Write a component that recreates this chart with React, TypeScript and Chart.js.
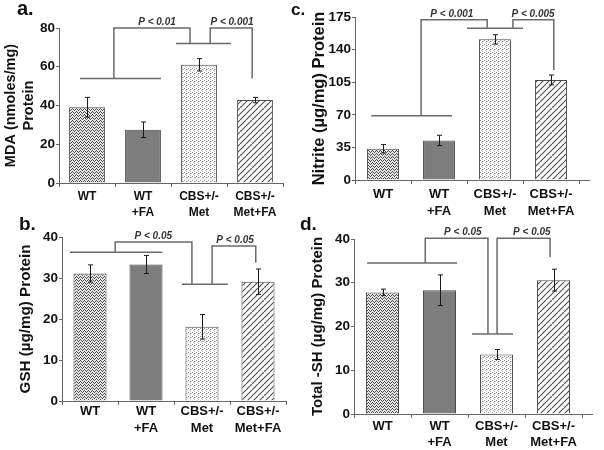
import React, { useEffect, useRef } from 'react';
import { Chart, registerables } from 'chart.js';

Chart.register(...registerables);

// ---------- data ----------
const categories: string[][] = [['WT'], ['WT', '+FA'], ['CBS+/-', 'Met'], ['CBS+/-', 'Met+FA']];

const mdaValues = [39.1, 27.5, 61, 42.8];
const mdaErrors = [5.1, 4, 3.2, 1.4];
const mdaTicks = [0, 20, 40, 60, 80];

const nitriteValues = [33.5, 42.5, 151, 107.4];
const nitriteErrors = [4.5, 5.5, 5, 5.3];
const nitriteTicks = [0, 35, 70, 105, 140, 175];

const gshValues = [31.1, 33.3, 18.1, 29.1];
const gshErrors = [2.1, 2.2, 3, 3.1];
const gshTicks = [0, 10, 20, 30, 40];

const totalShValues = [27.8, 28.3, 13.6, 30.6];
const totalShErrors = [0.75, 3.5, 1.15, 2.5];
const totalShTicks = [0, 10, 20, 30, 40];

// significance annotations (x in category units, y in data units)
const mdaGroupLines = [{ x1: -0.125, x2: 1.32, v: 54 }, { x1: 1.59, x2: 2.57, v: 72 }];
const mdaBrackets = [
  { x1: 0.48, y1: 54, x2: 1.84, y2: 72, top: 80, label: 'P < 0.01', lx: 1.25 },
  { x1: 2.2, y1: 72, x2: 2.95, y2: 54, top: 80, label: 'P < 0.001', lx: 2.59 },
];
const nitriteGroupLines = [{ x1: -0.21, x2: 1.23, v: 69 }, { x1: 1.5, x2: 2.5, v: 163 }];
const nitriteBrackets = [
  { x1: 0.68, y1: 69, x2: 1.86, y2: 163, top: 172, label: 'P < 0.001', lx: 1.23 },
  { x1: 2.32, y1: 163, x2: 3.05, y2: 118, top: 172, label: 'P < 0.005', lx: 2.68 },
];
const gshGroupLines = [{ x1: -0.36, x2: 1.29, v: 36.3 }, { x1: 1.64, x2: 2.46, v: 28.5 }];
const gshBrackets = [
  { x1: 0.45, y1: 36.3, x2: 1.82, y2: 28.5, top: 38.8, label: 'P < 0.05', lx: 1.13 },
  { x1: 2.18, y1: 28.5, x2: 2.96, y2: 33.7, top: 37.8, label: 'P < 0.05', lx: 2.59 },
];
const totalShGroupLines = [{ x1: -0.27, x2: 1.31, v: 34.5 }, { x1: 1.57, x2: 2.29, v: 18.3 }];
const totalShBrackets = [
  { x1: 0.75, y1: 34.5, x2: 1.85, y2: 18.3, top: 40.2, label: 'P < 0.05', lx: 1.41 },
  { x1: 2.01, y1: 18.3, x2: 2.94, y2: 35.9, top: 40.2, label: 'P < 0.05', lx: 2.62 },
];

// ---------- layout / style ----------
const W = 604;
const H = 450;
const X_AXIS_H = 36;
const FONT = '"Liberation Sans", Arial, sans-serif';

type Panel = {
  letter: string; letterX: number; letterY: number; letterSize: number;
  title: string | string[]; titleSize: number; titlePad: number;
  values: number[]; errors: number[]; ticks: number[];
  groupLines: { x1: number; x2: number; v: number }[];
  brackets: { x1: number; y1: number; x2: number; y2: number; top: number; label: string; lx: number }[];
  padLeft: number; left: number; right: number; top: number; bottom: number;
  barPct: number; xFont: number; xPad: number; axisExtra: number;
};

const panels: Panel[] = [
  {
    letter: 'a.', letterX: 17, letterY: 15, letterSize: 20,
    title: ['MDA (nmoles/mg)', 'Protein'], titleSize: 14.5, titlePad: 2,
    values: mdaValues, errors: mdaErrors, ticks: mdaTicks,
    groupLines: mdaGroupLines, brackets: mdaBrackets,
    padLeft: 0, left: 59, right: 283, top: 28, bottom: 183,
    barPct: 0.64, xFont: 12, xPad: 2, axisExtra: 0,
  },
  {
    letter: 'c.', letterX: 291, letterY: 15, letterSize: 17,
    title: 'Nitrite (µg/mg) Protein', titleSize: 16.5, titlePad: 9,
    values: nitriteValues, errors: nitriteErrors, ticks: nitriteTicks,
    groupLines: nitriteGroupLines, brackets: nitriteBrackets,
    padLeft: 300, left: 355, right: 579, top: 17, bottom: 180,
    barPct: 0.57, xFont: 13, xPad: 2, axisExtra: 11,
  },
  {
    letter: 'b.', letterX: 19, letterY: 230, letterSize: 19,
    title: 'GSH (µg/mg) Protein', titleSize: 15.2, titlePad: 16,
    values: gshValues, errors: gshErrors, ticks: gshTicks,
    groupLines: gshGroupLines, brackets: gshBrackets,
    padLeft: 0, left: 62, right: 286, top: 237, bottom: 401,
    barPct: 0.59, xFont: 13, xPad: -2, axisExtra: 0,
  },
  {
    letter: 'd.', letterX: 300, letterY: 230, letterSize: 19,
    title: 'Total -SH (µg/mg) Protein', titleSize: 15, titlePad: 8,
    values: totalShValues, errors: totalShErrors, ticks: totalShTicks,
    groupLines: totalShGroupLines, brackets: totalShBrackets,
    padLeft: 300, left: 354, right: 582, top: 239, bottom: 414,
    barPct: 0.58, xFont: 13, xPad: -0.5, axisExtra: 11,
  },
];

function makePatterns(ctx: CanvasRenderingContext2D) {
  const tile = (w: number, h: number, bg: string, draw: (c: CanvasRenderingContext2D) => void) => {
    const cv = document.createElement('canvas');
    cv.width = w; cv.height = h;
    const c = cv.getContext('2d')!;
    c.fillStyle = bg;
    c.fillRect(0, 0, w, h);
    draw(c);
    return ctx.createPattern(cv, 'repeat')!;
  };
  const px = (c: CanvasRenderingContext2D, rows: string[], color: string) => {
    c.fillStyle = color;
    rows.forEach((r, y) => {
      for (let x = 0; x < r.length; x++) if (r[x] === '#') c.fillRect(x, y, 1, 1);
    });
  };
  // zig-zag weave
  const wt = tile(4, 3, '#e4e4e4', (c) => {
    px(c, ['#...', '.#.#', '..#.'], '#4f4f4f');
  });
  // fine light dots
  const met = tile(4, 4, '#ffffff', (c) => {
    px(c, ['#...', '..#.', '....', '....'], '#8c8c8c');
    px(c, ['....', '...#', '.#..', '..#.'], '#c8c8c8');
  });
  // diagonal hatch
  const metfa = tile(6, 6, '#ffffff', (c) => {
    c.strokeStyle = '#4c4c4c';
    c.lineWidth = 1.1;
    c.beginPath();
    for (const k of [-6, 0, 6]) { c.moveTo(k, 6); c.lineTo(k + 6, 0); }
    c.stroke();
  });
  return [wt, '#7d7d7d', met, metfa];
}

function makeAnnotPlugin(p: Panel) {
  return {
    id: 'annot',
    afterDatasetsDraw(chart: any) {
      const ctx: CanvasRenderingContext2D = chart.ctx;
      const xs = chart.scales.x;
      const ys = chart.scales.y;
      const c0 = xs.getPixelForValue(0);
      const step = xs.getPixelForValue(1) - c0;
      const px = (pos: number) => c0 + pos * step;
      const py = (v: number) => ys.getPixelForValue(v);
      ctx.save();
      // error bars
      ctx.strokeStyle = '#1a1a1a';
      ctx.lineWidth = 1;
      p.values.forEach((v, i) => {
        const x = Math.round(xs.getPixelForValue(i)) + 0.5;
        const t = py(v + p.errors[i]);
        const b = py(v - p.errors[i]);
        ctx.beginPath();
        ctx.moveTo(x, t); ctx.lineTo(x, b);
        ctx.moveTo(x - 2.5, t); ctx.lineTo(x + 2.5, t);
        ctx.moveTo(x - 2.5, b); ctx.lineTo(x + 2.5, b);
        ctx.stroke();
      });
      // brackets
      ctx.strokeStyle = '#6a6a6a';
      ctx.lineWidth = 1.5;
      p.groupLines.forEach((g) => {
        ctx.beginPath();
        ctx.moveTo(px(g.x1), py(g.v));
        ctx.lineTo(px(g.x2), py(g.v));
        ctx.stroke();
      });
      ctx.fillStyle = '#333';
      ctx.font = `italic bold 10px ${FONT}`;
      ctx.textAlign = 'center';
      ctx.textBaseline = 'alphabetic';
      p.brackets.forEach((b) => {
        ctx.beginPath();
        ctx.moveTo(px(b.x1), py(b.y1));
        ctx.lineTo(px(b.x1), py(b.top));
        ctx.lineTo(px(b.x2), py(b.top));
        ctx.lineTo(px(b.x2), py(b.y2));
        ctx.stroke();
        ctx.fillText(b.label, px(b.lx), py(b.top) - 3);
      });
      // x axis extension
      if (p.axisExtra > 0) {
        ctx.strokeStyle = '#666';
        ctx.lineWidth = 1;
        const yb = Math.round(chart.chartArea.bottom) + 0.5;
        ctx.beginPath();
        ctx.moveTo(chart.chartArea.right, yb);
        ctx.lineTo(chart.chartArea.right + p.axisExtra, yb);
        ctx.stroke();
      }
      // panel letter
      ctx.fillStyle = '#111';
      ctx.font = `bold ${p.letterSize}px ${FONT}`;
      ctx.textAlign = 'left';
      ctx.textBaseline = 'alphabetic';
      ctx.fillText(p.letter, p.letterX, p.letterY);
      ctx.restore();
    },
  };
}

function buildChart(canvas: HTMLCanvasElement, p: Panel, fills: any[]) {
  return new Chart(canvas, {
    type: 'bar',
    data: {
      labels: categories,
      datasets: [
        {
          data: p.values,
          backgroundColor: fills,
          borderColor: '#4a4a4a',
          borderWidth: 1,
          barPercentage: p.barPct,
          categoryPercentage: 1,
        },
      ],
    },
    options: {
      responsive: false,
      animation: false,
      devicePixelRatio: 1,
      events: [],
      layout: {
        padding: { left: p.padLeft, right: W - p.right, top: p.top, bottom: H - p.bottom - X_AXIS_H },
      },
      plugins: { legend: { display: false }, tooltip: { enabled: false } },
      scales: {
        x: {
          grid: { drawOnChartArea: false, tickLength: 4, color: '#666', offset: true },
          border: { color: '#666' },
          ticks: {
            color: '#111',
            font: { family: FONT, size: p.xFont, weight: 'bold', lineHeight: 1.3 },
            padding: p.xPad,
            maxRotation: 0,
            minRotation: 0,
            autoSkip: false,
          },
          afterFit: (s: any) => { s.height = X_AXIS_H; },
        },
        y: {
          min: p.ticks[0],
          max: p.ticks[p.ticks.length - 1],
          ticks: {
            stepSize: p.ticks[1] - p.ticks[0],
            color: '#111',
            font: { family: FONT, size: 13.5, weight: 'bold' },
            padding: 1,
          },
          grid: { drawOnChartArea: false, tickLength: 3, color: '#666' },
          border: { color: '#666' },
          title: {
            display: true,
            text: p.title,
            color: '#111',
            font: { family: FONT, size: p.titleSize, weight: 'bold', lineHeight: 1.25 },
            padding: { top: p.titlePad, bottom: 0 },
          },
          afterFit: (s: any) => { s.width = p.left - p.padLeft; },
        },
      },
    } as any,
    plugins: [makeAnnotPlugin(p)],
  });
}

export default function App() {
  const refs = useRef<(HTMLCanvasElement | null)[]>([]);
  useEffect(() => {
    const charts: Chart[] = [];
    const first = refs.current[0];
    if (!first) return;
    const fills = makePatterns(first.getContext('2d')!);
    panels.forEach((p, i) => {
      const cv = refs.current[i];
      if (cv) charts.push(buildChart(cv, p, fills));
    });
    return () => charts.forEach((c) => c.destroy());
  }, []);
  return (
    <div style={{ position: 'absolute', left: 0, top: 0, width: W, height: H, background: '#fff' }}>
      {panels.map((p, i) => (
        <canvas
          key={p.letter}
          ref={(el) => { refs.current[i] = el; }}
          width={W}
          height={H}
          style={{ position: 'absolute', left: 0, top: 0, width: W, height: H }}
        />
      ))}
    </div>
  );
}
